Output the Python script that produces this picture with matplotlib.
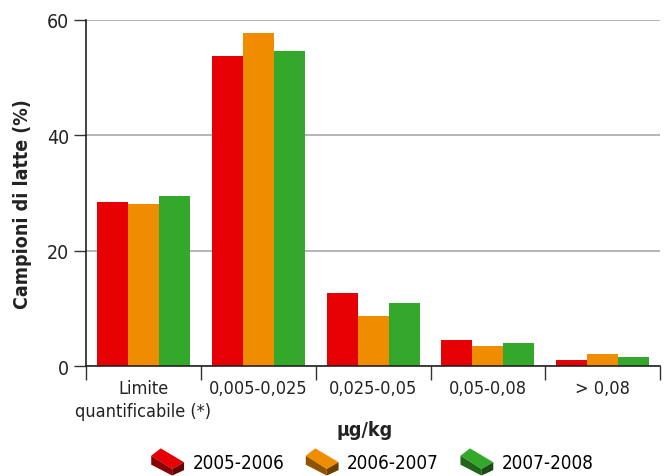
import numpy as np
import matplotlib
matplotlib.use("Agg")
import matplotlib.pyplot as plt
from matplotlib.legend_handler import HandlerBase
from matplotlib.patches import Polygon, Patch
import matplotlib.colors as mcolors

plt.rcParams['font.family'] = ['DejaVu Sans']
plt.rcParams['font.stretch'] = 'condensed'

CATEGORIES = ['Limite\nquantificabile (*)', '0,005-0,025', '0,025-0,05', '0,05-0,08', '> 0,08']
SERIES     = ['2005-2006', '2006-2007', '2007-2008']
VALUES     = [
    [28.4, 53.8, 12.7, 4.5, 1.0],   # 2005-2006
    [28.1, 57.7, 8.7, 3.5, 2.1],    # 2006-2007
    [29.5, 54.6, 10.9, 4.0, 1.6],   # 2007-2008
]
COLORS     = ['#e60004', '#f08c00', '#34a82b']
YTICKS     = [0, 20, 40, 60]


class BrickHandler(HandlerBase):
    """Legend key drawn as a small 3D brick."""
    def create_artists(self, legend, orig_handle, xdescent, ydescent,
                       width, height, fontsize, trans):
        base = mcolors.to_rgb(orig_handle.get_facecolor())
        front_c = tuple(c * 0.6 for c in base)
        side_c = tuple(c * 0.45 for c in base)
        w = width
        h = fontsize * 1.45
        x0 = -xdescent
        y0 = 0.33 * fontsize - h / 2

        def P(u, v):
            return (x0 + u * w, y0 + v * h)

        top = Polygon([P(0, 0.73), P(0.29, 1.0), P(1.0, 0.49), P(0.64, 0.24)],
                      closed=True, fc=base, ec='none')
        front = Polygon([P(0, 0.73), P(0.64, 0.24), P(0.64, 0.0), P(0, 0.40)],
                        closed=True, fc=front_c, ec='none')
        side = Polygon([P(0.64, 0.24), P(1.0, 0.49), P(1.0, 0.20), P(0.64, 0.0)],
                       closed=True, fc=side_c, ec='none')
        arts = [top, front, side]
        for a in arts:
            a.set_transform(trans)
        return arts


fig = plt.figure(figsize=(6.71, 4.77), dpi=100)
ax = fig.add_axes([0.128, 0.2306, 0.856, 0.7254])

n = len(CATEGORIES)
x = np.arange(n)
bw = 0.27
for i, (vals, col) in enumerate(zip(VALUES, COLORS)):
    ax.bar(x + (i - 1) * bw, vals, width=bw, color=col, linewidth=0, zorder=3)

ax.set_xlim(-0.5, n - 0.5)
ax.set_ylim(0, 60)
ax.set_yticks(YTICKS)
ax.set_yticklabels([str(t) for t in YTICKS], fontsize=14, color='#222222')
ax.yaxis.grid(True, color='#a8a8ad', linewidth=1.2, zorder=0)
ax.set_axisbelow(True)

# category boundaries as ticks, labels centred between them
ax.set_xticks(np.arange(n + 1) - 0.5)
ax.set_xticklabels([])
ax.set_xticks(x, minor=True)
ax.set_xticklabels(CATEGORIES, minor=True, fontsize=13, color='#222222',
                   linespacing=1.4)
ax.tick_params(axis='x', which='major', length=10, width=1.0, color='#333333',
               direction='out')
ax.tick_params(axis='x', which='minor', length=0, pad=9)
ax.tick_params(axis='y', length=9, width=1.0, color='#333333', pad=3)

for s in ['top', 'right']:
    ax.spines[s].set_visible(False)
ax.spines['left'].set_color('#222222')
ax.spines['bottom'].set_color('#222222')
ax.spines['left'].set_linewidth(1.2)
ax.spines['bottom'].set_linewidth(1.2)
ax.spines['bottom'].set_zorder(4)

ax.set_ylabel('Campioni di latte (%)', fontsize=14, fontweight='bold',
              color='#222222')
ax.yaxis.set_label_coords(-0.094, 0.47)
fig.text(0.544, 0.0985, 'µg/kg', fontsize=14, fontweight='bold',
         color='#222222', ha='center', va='center')

handles = [Patch(facecolor=c) for c in COLORS]
fig.legend(handles, SERIES, loc='center', bbox_to_anchor=(0.555, 0.028),
           ncol=3, frameon=False, fontsize=13.5, handler_map={Patch: BrickHandler()},
           handlelength=1.75, handleheight=1.0, handletextpad=0.45, columnspacing=1.15)

fig.savefig('out.png', dpi=100)
